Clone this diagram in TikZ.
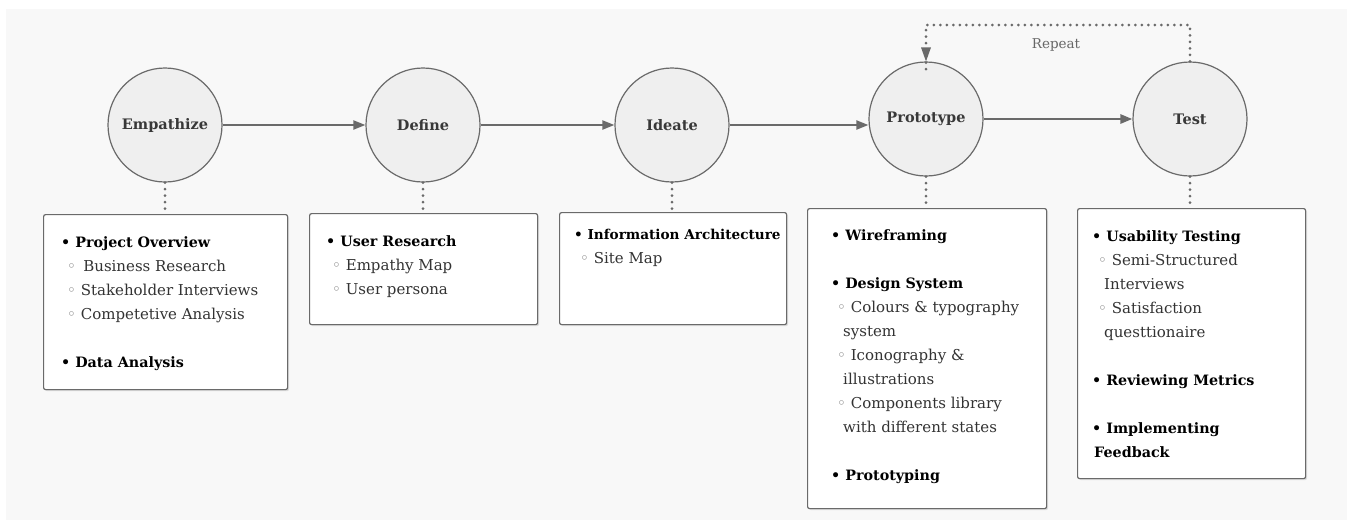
\documentclass[tikz,border=0pt]{standalone}
\usepackage{fontspec}
\setmainfont{DejaVu Serif}
\newfontfamily\bulletfont{DejaVu Sans}
\usetikzlibrary{arrows.meta,positioning,shadows}

\definecolor{bgGray}{HTML}{F8F8F8}
\definecolor{lineGray}{HTML}{6A6A6A}
\definecolor{stageFill}{HTML}{EFEFEF}
\definecolor{subText}{HTML}{333333}

\newcommand{\mainitm}[2][14.3]{{\fontsize{#1}{24}\selectfont\textbf{\textbullet\ #2}}}
\newcommand{\subitm}[1]{\hspace*{6pt}{\color{subText}{\bulletfont\color{black!55}◦}\ #1}}
\newcommand{\contitm}[1]{\hspace*{12pt}{\color{subText}#1}}

\tikzset{
  stage/.style={circle, draw=lineGray, line width=1.2pt, fill=stageFill,
    minimum size=114pt, inner sep=0pt, font=\bfseries\fontsize{14.5}{16}\selectfont, text=black!78},
  flow/.style={draw=lineGray, line width=2pt, -{Triangle[length=12pt,width=9pt]}},
  dotlink/.style={draw=lineGray, line width=3pt, line cap=round, dash pattern=on 0pt off 6.5pt},
  infobox/.style={draw=lineGray, line width=1.2pt, fill=white, rounded corners=2pt,
    drop shadow={shadow xshift=1.5pt, shadow yshift=-1.5pt, fill=black!25}, inner sep=0pt},
  infotext/.style={anchor=north west, align=left, inner sep=0pt,
    font=\fontsize{15}{24}\selectfont}
}

\begin{document}
\begin{tikzpicture}[x=1pt,y=-1pt]
  \useasboundingbox (0,0) rectangle (1347,520);
  \fill[white] (0,0) rectangle (1347,520);
  \fill[bgGray] (6,9) rectangle (1347,520);

  % stages
  \node[stage] (empathize) at (165,125) {Empathize};
  \node[stage] (define) at (423,125) {Define};
  \node[stage] (ideate) at (672,125) {Ideate};
  \node[stage] (prototype) at (926,119) {Prototype};
  \node[stage] (test) at (1190,119) {Test};

  \draw[flow] (empathize) -- (define);
  \draw[flow] (define) -- (ideate);
  \draw[flow] (ideate.east |- 0,125) -- (prototype.west |- 0,125);
  \draw[flow, line width=2.6pt] (prototype) -- (test);

  % repeat loop
  \coordinate (loopR) at (1190,25);
  \coordinate (loopL) at (926,25);
  \draw[dotlink] (test.north) -- (loopR) -- (loopL) -- ([yshift=-14pt]prototype.north);
  \draw[draw=none, fill=lineGray] (prototype.north) -- ++(-5,-14) -- ++(10,0) -- cycle;
  \node[font=\fontsize{13.5}{15}\selectfont, text=black!60] (repeat) at (1056,45) {Repeat};

  % boxes
  \node[infobox, minimum width=244pt, minimum height=175pt, anchor=north west] (boxE) at (43,214) {};
  \node[infobox, minimum width=228pt, minimum height=111pt, anchor=north west] (boxD) at (309,213) {};
  \node[infobox, minimum width=227pt, minimum height=112pt, anchor=north west] (boxI) at (559,212) {};
  \node[infobox, minimum width=239pt, minimum height=300pt, anchor=north west] (boxP) at (807,208) {};
  \node[infobox, minimum width=228pt, minimum height=270pt, anchor=north west] (boxT) at (1077,208) {};

  \draw[dotlink] (empathize.south) -- (boxE.north -| empathize);
  \draw[dotlink] (define.south) -- (boxD.north -| define);
  \draw[dotlink] (ideate.south) -- (boxI.north -| ideate);
  \draw[dotlink] (prototype.south) -- (boxP.north -| prototype);
  \draw[dotlink] (test.south) -- (boxT.north -| test);

  \node[infotext] (txtE) at ([xshift=18pt,yshift=-22pt]boxE.north west) {%
    \mainitm{Project Overview}\\
    \subitm{\,Business Research}\\
    \subitm{Stakeholder Interviews}\\
    \subitm{Competetive Analysis}\\[24pt]
    \mainitm{Data Analysis}};
  \node[infotext] (txtD) at ([xshift=17pt,yshift=-22pt]boxD.north west) {%
    \mainitm{User Research}\\
    \subitm{Empathy Map}\\
    \subitm{User persona}};
  \node[infotext] (txtI) at ([xshift=15pt,yshift=-17pt]boxI.north west) {%
    \mainitm[13.6]{Information Architecture}\\
    \subitm{Site Map}};
  \node[infotext] (txtP) at ([xshift=24pt,yshift=-21pt]boxP.north west) {%
    \mainitm{Wireframing}\\[24pt]
    \mainitm{Design System}\\
    \subitm{Colours \& typography}\\
    \contitm{system}\\
    \subitm{Iconography \&}\\
    \contitm{illustrations}\\
    \subitm{Components library}\\
    \contitm{with different states}\\[24pt]
    \mainitm{Prototyping}};
  \node[infotext] (txtT) at ([xshift=15pt,yshift=-22pt]boxT.north west) {%
    \mainitm{Usability Testing}\\
    \subitm{Semi-Structured}\\
    \contitm{Interviews}\\
    \subitm{Satisfaction}\\
    \contitm{questtionaire}\\[24pt]
    \mainitm{Reviewing Metrics}\\[24pt]
    \mainitm{Implementing}\\
    {\fontsize{14.3}{24}\selectfont\hspace*{2pt}\textbf{Feedback}}};
\end{tikzpicture}
\end{document}
